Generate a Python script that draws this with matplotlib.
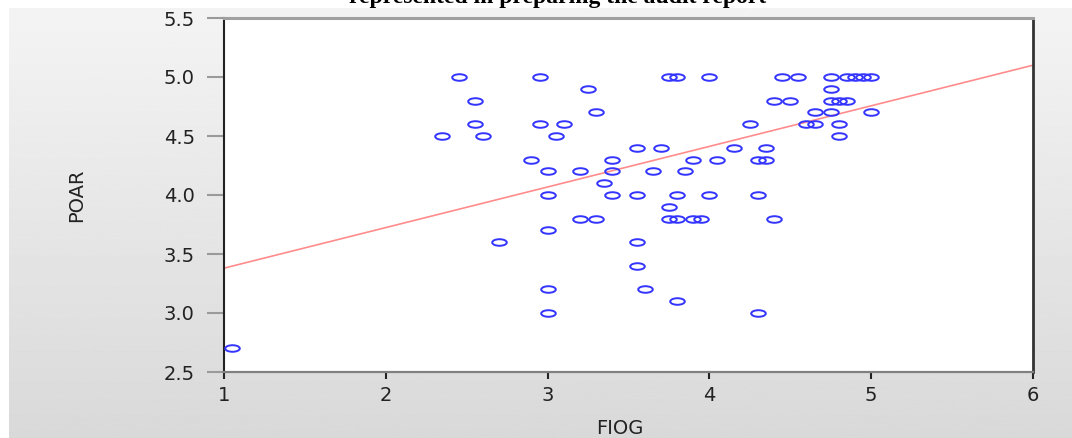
import matplotlib
matplotlib.use("Agg")
import matplotlib.pyplot as plt
import numpy as np
from matplotlib.path import Path
from matplotlib.transforms import Affine2D

# data
fiog = [1.05, 2.35, 2.45, 2.55, 2.55, 2.6, 2.7, 2.9, 2.95, 2.95,
        3.0, 3.0, 3.0, 3.0, 3.0, 3.05, 3.1, 3.2, 3.2, 3.25,
        3.3, 3.3, 3.35, 3.4, 3.4, 3.4, 3.55, 3.55, 3.55, 3.55,
        3.6, 3.65, 3.7, 3.75, 3.8, 3.75, 3.75, 3.8, 3.8, 3.8,
        3.85, 3.9, 3.9, 3.95, 4.0, 4.0, 4.05, 4.15, 4.25, 4.3,
        4.35, 4.3, 4.3, 4.35, 4.4, 4.5, 4.4, 4.45, 4.55, 4.6,
        4.65, 4.65, 4.75, 4.75, 4.75, 4.75, 4.8, 4.85, 4.8, 4.8,
        4.85, 4.9, 4.95, 5.0, 5.0]
poar = [2.7, 4.5, 5.0, 4.8, 4.6, 4.5, 3.6, 4.3, 5.0, 4.6,
        4.2, 4.0, 3.7, 3.2, 3.0, 4.5, 4.6, 4.2, 3.8, 4.9,
        4.7, 3.8, 4.1, 4.3, 4.2, 4.0, 4.4, 4.0, 3.6, 3.4,
        3.2, 4.2, 4.4, 5.0, 5.0, 3.9, 3.8, 3.8, 4.0, 3.1,
        4.2, 4.3, 3.8, 3.8, 5.0, 4.0, 4.3, 4.4, 4.6, 4.3,
        4.3, 4.0, 3.0, 4.4, 4.8, 4.8, 3.8, 5.0, 5.0, 4.6,
        4.6, 4.7, 4.7, 5.0, 4.9, 4.8, 4.8, 4.8, 4.6, 4.5,
        5.0, 5.0, 5.0, 5.0, 4.7]

# fit line end points
fit_x = [1, 6]
fit_y = [3.38, 5.10]

xticks = [1, 2, 3, 4, 5, 6]
yticks = [2.5, 3.0, 3.5, 4.0, 4.5, 5.0, 5.5]
title = "represented in preparing the audit report"

fig = plt.figure(figsize=(10.72, 4.38), dpi=100)
fig.patch.set_facecolor("white")

# grey gradient panel behind the chart
bg = fig.add_axes([9 / 1072, 0, 1 - 9 / 1072, 430 / 438])
grad = np.linspace(0.955, 0.85, 256).reshape(-1, 1)
bg.imshow(grad, aspect="auto", cmap="gray", vmin=0, vmax=1, extent=[0, 1, 0, 1])
bg.axis("off")

# title is clipped at the top edge, as in the source image
fig.text(0.52, 1 - 3 / 438, title, ha="center", va="baseline",
         fontfamily="Liberation Serif", fontweight="bold", fontsize=17)

ax = fig.add_axes([224 / 1072, 1 - 372 / 438, 809 / 1072, 354 / 438])
ax.set_facecolor("white")

# flat ellipse marker
ellipse = Path.unit_circle().transformed(Affine2D().scale(1, 0.45))

ax.plot(fit_x, fit_y, color="#ff8c8c", lw=1.2, zorder=2)
ax.plot(fiog, poar, linestyle="none", marker=ellipse, markersize=10.5,
        markerfacecolor="none", markeredgecolor="#3434ff", markeredgewidth=1.4, zorder=3)

ax.set_xlim(1, 6)
ax.set_ylim(2.5, 5.5)
ax.set_xticks(xticks)
ax.set_yticks(yticks)
ax.set_xticklabels([str(t) for t in xticks])
ax.set_yticklabels(["%.1f" % t for t in yticks])

ax.spines["left"].set_color("#222222")
ax.spines["left"].set_linewidth(1.5)
ax.spines["right"].set_color("#333333")
ax.spines["right"].set_linewidth(2)
ax.spines["top"].set_color("#a0a0a0")
ax.spines["top"].set_linewidth(2.2)
ax.spines["bottom"].set_color("#808080")
ax.spines["bottom"].set_linewidth(1.6)

ax.tick_params(axis="y", direction="out", length=12, width=1.5, color="#9a9a9a",
               pad=9, labelsize=14, labelcolor="#222222")
ax.tick_params(axis="x", direction="out", length=5, width=1.5, color="#222222",
               pad=5, labelsize=14, labelcolor="#222222")
for lab in ax.get_xticklabels() + ax.get_yticklabels():
    lab.set_fontfamily("DejaVu Sans")

ax.set_xlabel("FIOG", fontsize=14, color="#222222", fontfamily="DejaVu Sans")
ax.set_ylabel("POAR", fontsize=14, color="#222222", fontfamily="DejaVu Sans")
ax.xaxis.set_label_coords((620 - 224) / 809, (372 - 428) / 354)
ax.xaxis.label.set_va("center")
ax.yaxis.set_label_coords((77 - 224) / 809, 0.5)
ax.yaxis.label.set_va("center")

fig.savefig("out.png", dpi=100)
